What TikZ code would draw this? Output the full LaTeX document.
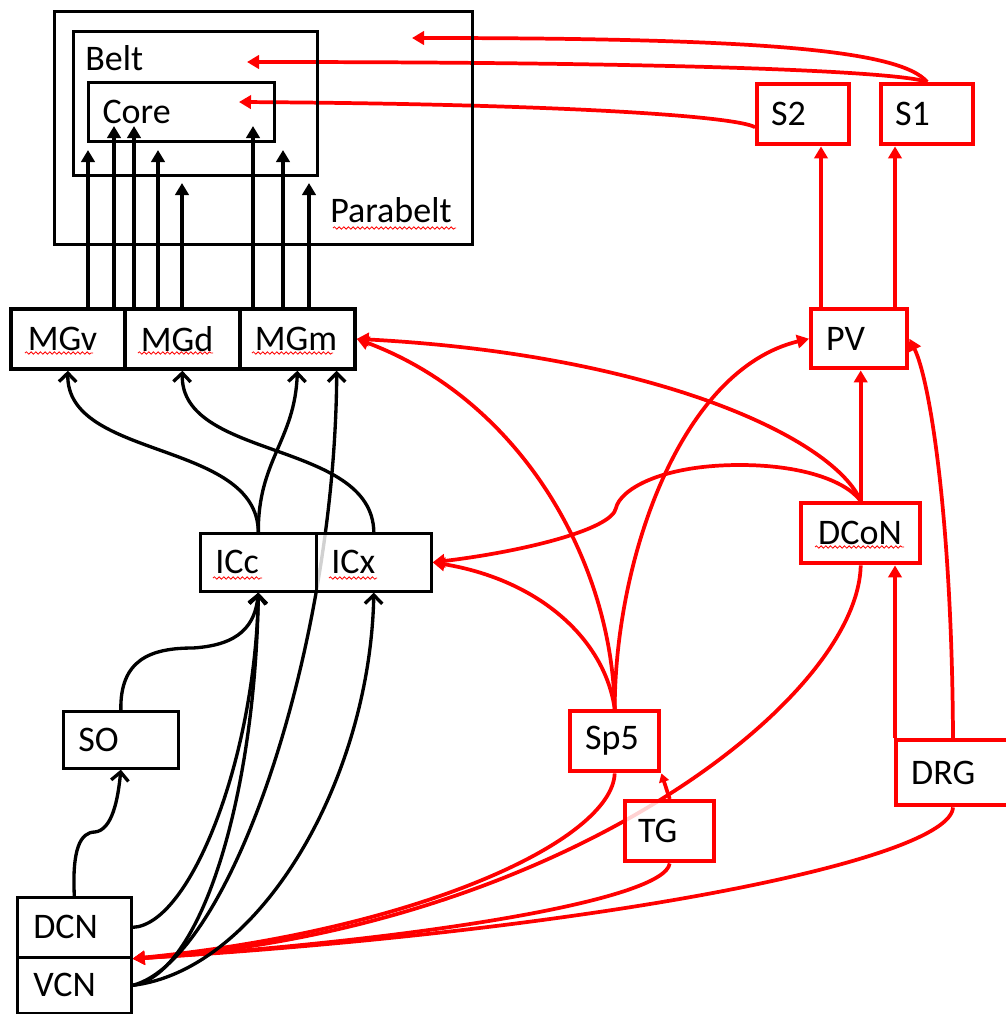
\documentclass[tikz,border=0pt]{standalone}
\usepackage{fontspec}
\setmainfont{Carlito}
\usetikzlibrary{arrows.meta,calc,decorations.pathmorphing}
\pgfdeclarelayer{bg}
\pgfsetlayers{bg,main}
\begin{document}
\begin{tikzpicture}[x=0.75pt,y=-0.75pt,
  font=\fontsize{27}{32}\selectfont,
  area/.style={draw, line width=2.3pt, anchor=north west, inner sep=0pt},
  kbox/.style={draw, fill=white, line width=2pt, anchor=north west, inner ysep=0pt, align=left},
  rbox/.style={draw=red, fill=white, line width=3.3pt, anchor=north west, inner ysep=0pt, align=left},
  seethru/.style={fill opacity=0.82, text opacity=1},
  karr/.style={line width=2.8pt, -{Triangle[width=10pt,length=9pt]}},
  kopen/.style={line width=2.5pt, -{Straight Barb[width=13pt,length=6.5pt]}},
  rarr/.style={red, line width=2.8pt, -{Triangle[width=10pt,length=9pt]}},
  spell/.style={draw=red, line width=0.6pt, decorate, decoration={snake, segment length=3.5pt, amplitude=0.9pt}}]
\useasboundingbox (0,0) rectangle (1006,1014);
\clip (0,0) rectangle (1006,1014);

% cortex areas
\node[area, minimum width=313.5pt, minimum height=174.75pt] (Parabelt) at (53,10) {};
\node[area, minimum width=183pt, minimum height=108pt] (Belt) at (72,30) {};
\node[area, minimum height=44.25pt, text width=118.5pt, inner xsep=10.5pt, align=left] (Core) at (87,81) {Core};
\node[anchor=base west, inner sep=0pt] (ParabeltL) at ($(Parabelt.north west)+(277,212)$) {Parabelt};
\node[anchor=base west, inner sep=0pt] (BeltL) at ($(Belt.north west)+(13,40)$) {Belt};

% thalamus
\node[kbox, line width=2.8pt, text width=60pt, inner xsep=12.75pt, minimum height=45pt] (MGv) at (9,307) {MGv};
\node[kbox, line width=2.8pt, text width=62.25pt, inner xsep=12pt, minimum height=45pt] (MGd) at (123,307) {MGd};
\node[kbox, line width=2.8pt, text width=63.75pt, inner xsep=11.25pt, minimum height=45pt] (MGm) at (238,307) {MGm};

% midbrain
\node[kbox, seethru, text width=64.5pt, inner xsep=11.25pt, minimum height=43.5pt] (ICc) at (199,532) {ICc};
\node[kbox, seethru, text width=63.75pt, inner xsep=11.25pt, minimum height=43.5pt] (ICx) at (315,532) {ICx};

% brainstem
\node[kbox, text width=63.75pt, inner xsep=11.25pt, minimum height=42.75pt] (SO) at (62,710) {SO};
\node[kbox, text width=61.5pt, inner xsep=12pt, minimum height=45pt] (DCN) at (16,896) {DCN};
\node[kbox, text width=61.5pt, inner xsep=12pt, minimum height=42pt] (VCN) at (16,956) {VCN};

% somatosensory
\node[rbox, text width=48pt, inner xsep=10.5pt, minimum height=45pt] (S2) at (755,82) {S2};
\node[rbox, text width=48pt, inner xsep=10.5pt, minimum height=45pt] (S1) at (879,82) {S1};
\node[rbox, text width=49.5pt, inner xsep=11.25pt, minimum height=44.25pt] (PV) at (809,307) {PV};
\node[rbox, text width=63.75pt, inner xsep=12.75pt, minimum height=45pt] (DCoN) at (799,501) {DCoN};
\node[rbox, text width=44.25pt, inner xsep=11.25pt, minimum height=45pt] (Sp5) at (568,709) {Sp5};
\node[rbox, seethru, text width=47.25pt, inner xsep=9.75pt, minimum height=45pt] (TG) at (623,799) {TG};
\node[rbox, text width=75pt, inner xsep=11.25pt, minimum height=48.75pt] (DRG) at (894,738) {DRG};

% spell-check underlines
\draw[spell] ($(MGv.north west)+(16,46)$) -- ++(68,0);
\draw[spell] ($(MGd.north west)+(15,46)$) -- ++(75,0);
\draw[spell] ($(MGm.north west)+(14,46)$) -- ++(81,0);
\draw[spell] ($(ICc.north west)+(14,46)$) -- ++(49,0);
\draw[spell] ($(ICx.north west)+(14,46)$) -- ++(48,0);
\draw[spell] ($(DCoN.north west)+(16,46)$) -- ++(89,0);
\draw[spell] ($(Parabelt.north west)+(280,218)$) -- ++(123,0);

\begin{pgfonlayer}{bg}
% MG -> auditory cortex
\draw[karr] ($(MGv.north west)+(79,0)$) -- ++(0,-157);
\draw[karr] ($(MGv.north west)+(105,0)$) -- ++(0,-181);
\draw[karr] ($(MGd.north west)+(11,0)$) -- ++(0,-181);
\draw[karr] ($(MGd.north west)+(35,0)$) -- ++(0,-157);
\draw[karr] ($(MGd.north west)+(59,0)$) -- ++(0,-124);
\draw[karr] ($(MGm.north west)+(15,0)$) -- ++(0,-181);
\draw[karr] ($(MGm.north west)+(45,0)$) -- ++(0,-157);
\draw[karr] ($(MGm.north west)+(71,0)$) -- ++(0,-124);

% somatosensory cortex -> auditory cortex
\draw[rarr] (S1.north) .. controls (900,50) and (760,38) .. ($(Parabelt.north west)+(359,28)$);
\draw[rarr] (S1.north) .. controls (900,72) and (700,62) .. ($(Belt.north west)+(175,32)$);
\draw[rarr] ($(S2.west)+(0,13)$) .. controls (735,116) and (560,104) .. ($(Core.north west)+(152,21)$);

% somatosensory ascending
\draw[rarr] ($(PV.north west)+(12,0)$) -- ($(S2.south west)+(66,0)$);
\draw[rarr] ($(PV.north west)+(86,0)$) -- ($(S1.south west)+(16,0)$);
\draw[rarr] (DCoN.north) -- (DCoN.north |- PV.south);
\draw[rarr] ($(DRG.north west)+(1,0)$) -- ($(DCoN.south west)+(96,0)$);
\draw[rarr] ($(DRG.north west)+(59,0)$) .. controls (952,520) and (930,380) .. (PV.east);
\draw[rarr] (Sp5.north) .. controls (615,560) and (680,370) .. (PV.west);
\draw[rarr, -{Triangle[width=7.5pt,length=6.5pt]}] (TG.north) -- (Sp5.south east);

% to MGm and ICx
\draw[rarr] (DCoN.north) .. controls (835,440) and (660,355) .. (MGm.east);
\draw[rarr] (Sp5.north) .. controls (612,560) and (520,400) .. (MGm.east);
\draw[rarr] (Sp5.north) .. controls (605,640) and (540,580) .. (ICx.east);
\draw[rarr] (DCoN.north) .. controls (845,480) and (800,465) .. (740,465)
   .. controls (660,465) and (620,490) .. (616,508)
   .. controls (612,530) and (520,552) .. (ICx.east);

% to cochlear nucleus
\coordinate (cnJ) at (DCN.south east);
\draw[rarr] (Sp5.south) .. controls (612,840) and (420,930) .. (cnJ);
\draw[rarr] (DCoN.south) .. controls (858,700) and (560,930) .. (cnJ);
\draw[rarr] (TG.south) .. controls (665,900) and (420,940) .. (cnJ);
\draw[rarr] ($(DRG.south west)+(59,0)$) .. controls (950,860) and (600,930) .. (cnJ);

% auditory brainstem
\draw[kopen] (DCN.north) .. controls (72,850) and (80,832) .. (95,832)
   .. controls (112,830) and (118,800) .. (SO.south);
\draw[kopen] (SO.north) .. controls (120,660) and (150,648) .. (193,648)
   .. controls (240,645) and (255,625) .. (ICc.south);
\draw[kopen] (DCN.east) .. controls (190,925) and (255,760) .. (ICc.south);
\draw[kopen] (VCN.east) .. controls (200,975) and (255,800) .. (ICc.south);
\draw[kopen] (VCN.east) .. controls (230,960) and (335,650) .. ($(MGm.south east)+(-20,0)$);
\draw[kopen] (VCN.east) .. controls (260,970) and (370,780) .. (ICx.south);
\draw[kopen] (ICc.north) .. controls (257,440) and (66,460) .. (MGv.south);
\draw[kopen] (ICc.north) .. controls (258,460) and (295,440) .. (MGm.south);
\draw[kopen] (ICx.north) .. controls (372,440) and (180,460) .. (MGd.south);
\end{pgfonlayer}
\end{tikzpicture}
\end{document}
